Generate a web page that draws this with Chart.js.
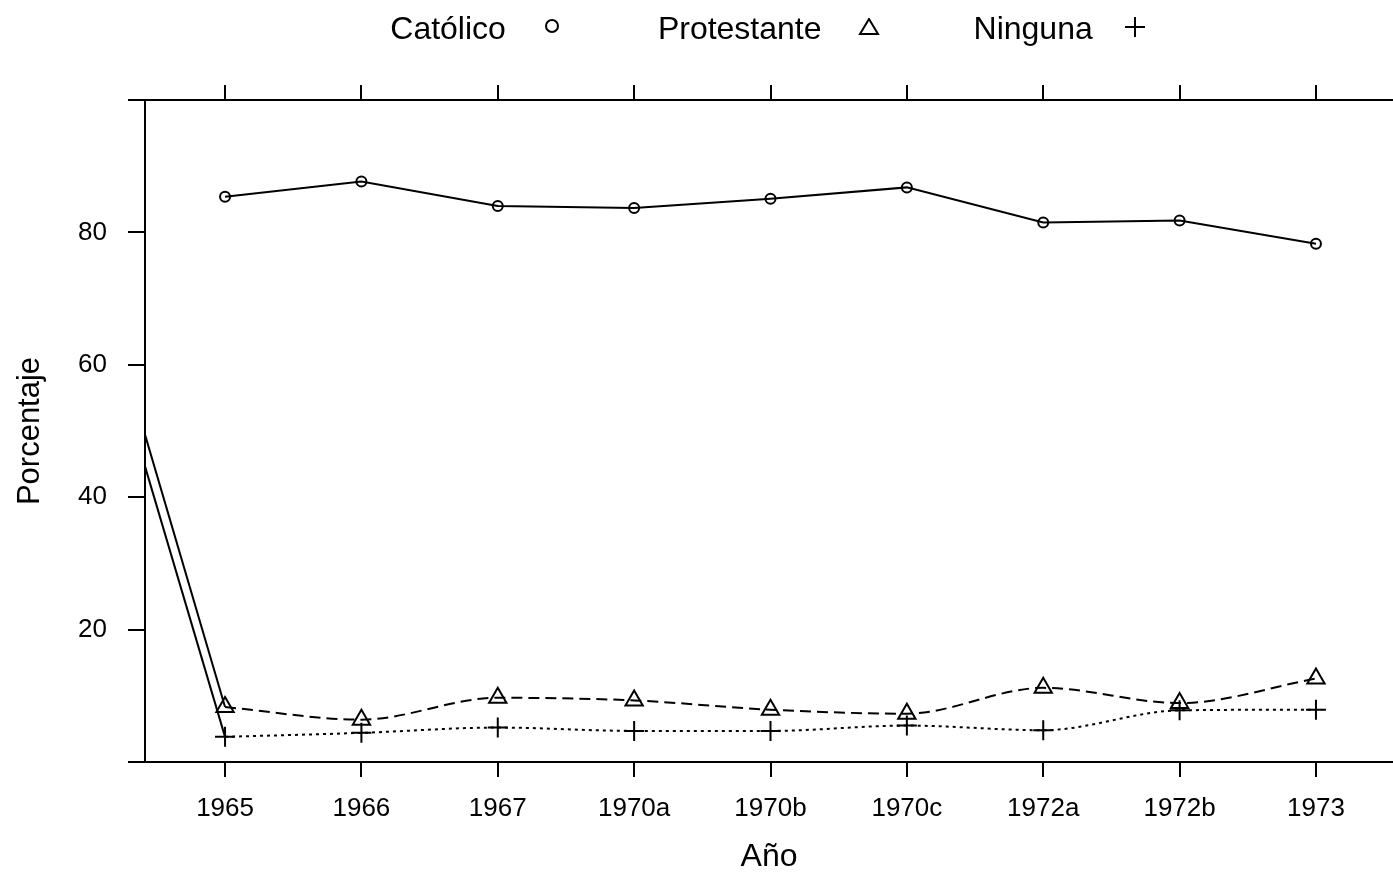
<!DOCTYPE html>
<html>
<head>
<meta charset="utf-8">
<script src="https://cdn.jsdelivr.net/npm/chart.js@4.4.1/dist/chart.umd.min.js"></script>
<style>
  html, body { margin: 0; padding: 0; background: #fff; overflow: hidden; }
  #wrap { position: relative; width: 1393px; height: 873px; overflow: hidden; }
  #chart { display: block; }
  #legend {
    position: absolute; left: 144px; width: 1248px; top: 8px; height: 40px;
    display: flex; justify-content: center; align-items: center;
    font-family: "Liberation Sans", Arial, sans-serif; font-size: 32px; color: #000;
  }
  #legend .item { display: flex; align-items: center; margin-right: 96px; }
  #legend .item:nth-child(2) { margin-right: 94px; }
  #legend .item:last-child { margin-right: 0; }
  #legend svg { margin-left: 36px; }
  #legend .item:last-child svg { margin-left: 31px; }
</style>
</head>
<body>
<div id="wrap">
  <div id="legend">
    <div class="item"><span>Católico</span>
      <svg width="20" height="20"><circle cx="10" cy="8" r="6" fill="none" stroke="#000" stroke-width="2"/></svg></div>
    <div class="item"><span>Protestante</span>
      <svg width="22" height="20"><polygon points="11,1 20,16 2,16" fill="none" stroke="#000" stroke-width="2"/></svg></div>
    <div class="item"><span>Ninguna</span>
      <svg width="22" height="22"><path d="M1 10 H21 M11 0 V20" stroke="#000" stroke-width="2"/></svg></div>
  </div>
  <!-- the panel runs off the right edge in the original, so the canvas is a bit wider than the window -->
  <canvas id="chart" width="1405" height="873"></canvas>
</div>
<script>
// categories
const years = ['1965', '1966', '1967', '1970a', '1970b', '1970c', '1972a', '1972b', '1973'];
// percentages
const catolico    = [85.4, 87.7, 84.0, 83.7, 85.1, 86.8, 81.5, 81.8, 78.3];
const protestante = [8.3, 6.4, 9.7, 9.3, 7.9, 7.3, 11.2, 8.9, 12.6];
const ninguna     = [3.8, 4.4, 5.2, 4.7, 4.7, 5.5, 4.8, 7.8, 7.9];
// the two stray solid lines coming in from the left edge start from an off-panel point
const protestanteLeadIn = 78.4;
const ningunaLeadIn = 73.4;
const yTicks = [20, 40, 60, 80];

const toPoints = (vals) => vals.map((v, i) => ({ x: i, y: v }));
const leadLine = (lead, vals) => [{ x: -1, y: lead }, { x: 0, y: vals[0] }];

const FONT = '"Liberation Sans", Arial, sans-serif';
Chart.defaults.font.family = FONT;
Chart.defaults.color = '#000';

// the box lines poke out a bit left of the y axis, like the original
const boxPlugin = {
  id: 'boxPlugin',
  afterDraw(chart) {
    const { ctx, chartArea } = chart;
    ctx.save();
    ctx.strokeStyle = '#000';
    ctx.lineWidth = 2;
    ctx.beginPath();
    ctx.moveTo(chartArea.left - 17, chartArea.top);
    ctx.lineTo(chartArea.left, chartArea.top);
    ctx.moveTo(chartArea.left - 17, chartArea.bottom);
    ctx.lineTo(chartArea.left, chartArea.bottom);
    ctx.stroke();
    ctx.restore();
  }
};

const noPad = () => ({ left: 0, top: 0, right: 0, bottom: 0 });
const catTicks = (scale) => { scale.ticks = years.map((_, i) => ({ value: i })); };
const fitX = (h) => (s) => { s.height = h; s.paddingLeft = 0; s.paddingRight = 0; s.getPadding = noPad; };

const markerStyle = {
  borderColor: '#000',
  borderWidth: 2,
  pointBorderWidth: 2,
  pointBackgroundColor: 'rgba(0,0,0,0)',
  pointBorderColor: '#000'
};

new Chart(document.getElementById('chart'), {
  type: 'line',
  data: {
    datasets: [{
      ...markerStyle,
      label: 'Católico',
      data: toPoints(catolico),
      pointStyle: 'circle',
      pointRadius: 5,
      tension: 0
    }, {
      ...markerStyle,
      label: 'Protestante',
      data: toPoints(protestante),
      cubicInterpolationMode: 'monotone',
      borderDash: [11, 6],
      pointStyle: 'triangle',
      pointRadius: 10
    }, {
      ...markerStyle,
      label: 'Ninguna',
      data: toPoints(ninguna),
      cubicInterpolationMode: 'monotone',
      borderDash: [3, 4],
      pointStyle: 'cross',
      pointRadius: 10
    }, {
      label: 'Protestante (entrada)',
      data: leadLine(protestanteLeadIn, protestante),
      borderColor: '#000',
      borderWidth: 2,
      pointRadius: 0,
      tension: 0
    }, {
      label: 'Ninguna (entrada)',
      data: leadLine(ningunaLeadIn, ninguna),
      borderColor: '#000',
      borderWidth: 2,
      pointRadius: 0,
      tension: 0
    }]
  },
  options: {
    responsive: false,
    animation: false,
    layout: { padding: 0 },
    plugins: { legend: { display: false }, tooltip: { enabled: false } },
    scales: {
      x: {
        type: 'linear',
        position: 'bottom',
        min: -0.587,
        max: 8.565,
        afterBuildTicks: catTicks,
        afterFit: fitX(111),
        grid: { drawOnChartArea: false, tickLength: 15, color: '#000', lineWidth: 2 },
        border: { display: true, color: '#000', width: 2 },
        ticks: {
          font: { size: 26 },
          padding: 16,
          maxRotation: 0,
          autoSkip: false,
          callback: (v) => years[Math.round(v)]
        },
        title: { display: true, text: 'Año', font: { size: 32, lineHeight: 1 }, padding: { top: 0, bottom: 0 } }
      },
      x2: {
        type: 'linear',
        position: 'top',
        min: -0.587,
        max: 8.565,
        afterBuildTicks: catTicks,
        afterFit: fitX(100),
        grid: { drawOnChartArea: false, tickLength: 15, color: '#000', lineWidth: 2 },
        border: { display: true, color: '#000', width: 2 },
        ticks: { display: false }
      },
      y: {
        min: 0,
        max: 100,
        afterBuildTicks: (s) => { s.ticks = yTicks.map((v) => ({ value: v })); },
        afterFit: (s) => { s.width = 145; s.paddingTop = 0; s.paddingBottom = 0; s.getPadding = noPad; },
        grid: { drawOnChartArea: false, tickLength: 17, color: '#000', lineWidth: 2 },
        border: { display: true, color: '#000', width: 2 },
        ticks: { font: { size: 26 }, padding: 21 },
        title: { display: true, text: 'Porcentaje', font: { size: 31, lineHeight: 1 }, padding: { top: 15, bottom: 0 } }
      }
    }
  },
  plugins: [boxPlugin]
});
</script>
</body>
</html>
